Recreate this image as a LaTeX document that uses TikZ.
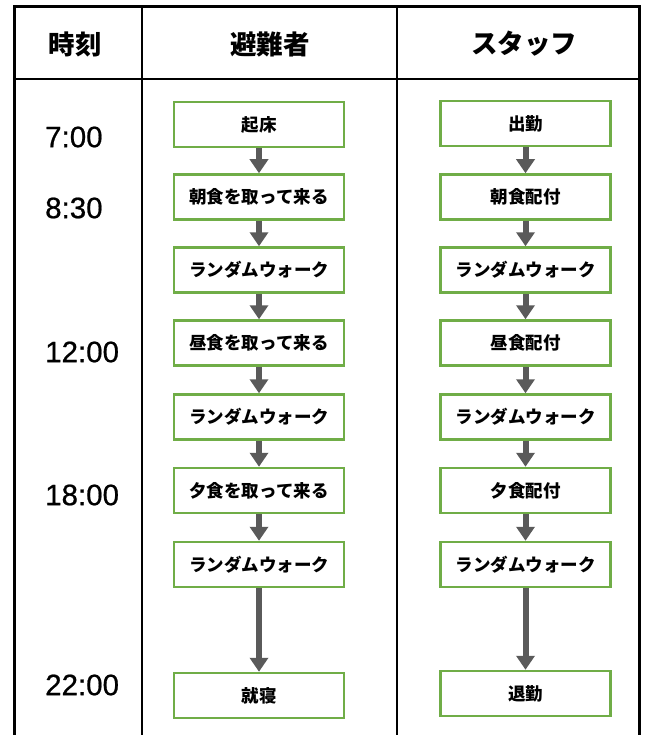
\documentclass[tikz,border=0pt]{standalone}
\usepackage{fontspec}
\setmainfont{Liberation Sans}
\newfontfamily\timefont{Liberation Sans}[FakeBold=0.7]
\newfontfamily\jpfont{Noto Sans CJK JP}
\usetikzlibrary{arrows.meta}
\definecolor{boxgreen}{HTML}{70AD47}
\definecolor{arrowgray}{HTML}{5A5A5A}
\tikzset{
  flowbox/.style={draw=boxgreen, line width=2.5pt, fill=white, minimum width=170pt, minimum height=45pt, inner sep=0pt,
    font=\jpfont\bfseries\fontsize{17.5}{18}\selectfont},
  flowarrow/.style={draw=arrowgray, line width=6pt, -{Triangle[width=18pt,length=14pt]}},
  headtext/.style={font=\jpfont\bfseries\fontsize{26.5}{28}\selectfont, inner sep=0pt},
  timetext/.style={font=\timefont\fontsize{29.5}{30}\selectfont, anchor=west, inner sep=0pt},
  gridline/.style={line width=2.5pt, draw=black},
}
\begin{document}
\begin{tikzpicture}[x=1pt,y=-1pt]
\useasboundingbox[fill=white] (0,0) rectangle (649,735);
% table
\draw[gridline, line width=3pt] (14,735) -- (14,7) -- (639,7) -- (639,735);
\draw[gridline] (142,7) -- (142,735);
\draw[gridline] (397,7) -- (397,735);
\draw[gridline] (14,79) -- (639,79);
% headers
\node[headtext] (h1) at (75,44) {時刻};
\node[headtext] (h2) at (270,44) {避難者};
\node[headtext] (h3) at (524,44) {スタッフ};
% times
\node[timetext] (t1) at (45,137) {7:00};
\node[timetext] (t2) at (45,208) {8:30};
\node[timetext] (t3) at (45,352) {12:00};
\node[timetext] (t4) at (45,495) {18:00};
\node[timetext] (t5) at (45,685) {22:00};
% evacuees
\node[flowbox] (a1) at (259,124.5) {起床};
\node[flowbox] (a2) at (259,197) {朝食を取って来る};
\node[flowbox] (a3) at (259,270) {ランダムウォーク};
\node[flowbox] (a4) at (259,343) {昼食を取って来る};
\node[flowbox] (a5) at (259,417) {ランダムウォーク};
\node[flowbox] (a6) at (259,490.5) {夕食を取って来る};
\node[flowbox] (a7) at (259,564.5) {ランダムウォーク};
\node[flowbox] (a8) at (259,695.5) {就寝};
% staff
\node[flowbox] (b1) at (525.5,123.5) {出勤};
\node[flowbox] (b2) at (525.5,197) {朝食配付};
\node[flowbox] (b3) at (525.5,270) {ランダムウォーク};
\node[flowbox] (b4) at (525.5,343) {昼食配付};
\node[flowbox] (b5) at (525.5,417) {ランダムウォーク};
\node[flowbox] (b6) at (525.5,490.5) {夕食配付};
\node[flowbox] (b7) at (525.5,564.5) {ランダムウォーク};
\node[flowbox] (b8) at (525.5,693.5) {退勤};
% arrows
\foreach \i/\j in {1/2,2/3,3/4,4/5,5/6,6/7,7/8}{
  \draw[flowarrow] (a\i.south) -- (a\j.north);
  \draw[flowarrow] (b\i.south) -- (b\j.north);
}
\end{tikzpicture}
\end{document}
